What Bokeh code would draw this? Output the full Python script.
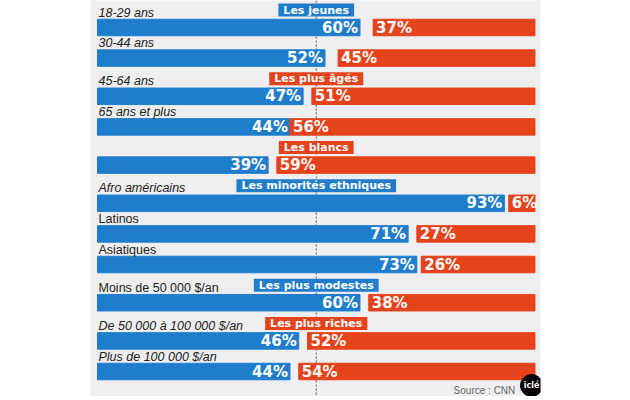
from bokeh.plotting import figure
from bokeh.models import Range1d, Span, ColumnDataSource, Label
from bokeh.core.properties import value
from bokeh.embed import file_html
from bokeh.resources import INLINE

# ---- data ----
categories = ["18-29 ans", "30-44 ans", "45-64 ans", "65 ans et plus", "",
              "Afro américains", "Latinos", "Asiatiques",
              "Moins de 50 000 $/an", "De 50 000 à 100 000 $/an", "Plus de 100 000 $/an"]
obama = [60, 52, 47, 44, 39, 93, 71, 73, 60, 46, 44]
mccain = [37, 45, 51, 56, 59, 6, 27, 26, 38, 52, 54]
group_titles = ["Les jeunes", "", "Les plus âgés", "", "Les blancs",
                "Les minorités ethniques", "", "", "Les plus modestes",
                "Les plus riches", ""]
source_text = "Source : CNN"

# ---- styles / layout ----
BLUE = "#1f7dcc"
RED = "#e5431b"
label_styles = ["italic", "italic", "italic", "italic", "italic", "italic",
                "normal", "normal", "normal", "italic", "italic"]
ROW, HEAD, TOP = 30.6, 7.6, 27.0

ys = []
y = TOP
for i, t in enumerate(group_titles):
    if i > 0:
        y += ROW + (HEAD if t else 0)
    ys.append(y)

src = ColumnDataSource(dict(
    y=ys,
    ylab=[v - 15 for v in ys],
    cat=categories,
    style=label_styles,
    obama=obama,
    mstart=[100 - m for m in mccain],
    olab=[f"{v}%" for v in obama],
    mlab=[f"{v}%" for v in mccain],
))

hidx = [i for i, t in enumerate(group_titles) if t]
hsrc = ColumnDataSource(dict(
    x=[50] * len(hidx),
    y=[ys[i] - 17.5 for i in hidx],
    text=[group_titles[i] for i in hidx],
    color=[BLUE if obama[i] > mccain[i] else RED for i in hidx],
))

p = figure(width=614, height=396,
           x_range=Range1d(-1.6, 101.26), y_range=Range1d(396, 0),
           x_axis_location=None, y_axis_location=None,
           output_backend="svg", toolbar_location=None,
           min_border_left=90, min_border_right=74,
           min_border_top=0, min_border_bottom=0)
p.background_fill_color = "#efeff1"
p.border_fill_color = "white"
p.outline_line_color = None
p.grid.visible = False

p.add_layout(Span(location=50, dimension="height", line_color="#555555",
                  line_dash="2 2", line_width=1, level="underlay"))

p.hbar(y="y", left=0, right="obama", height=16.5, color=BLUE, source=src)
p.hbar(y="y", left="mstart", right=100, height=16.5, color=RED, source=src)

p.text(x="obama", y="y", text="olab", source=src, text_align="right",
       text_baseline="middle", x_offset=-2, text_color="white",
       text_font=value("DejaVu Sans"), text_font_style="bold",
       text_font_size="15px")
p.text(x="mstart", y="y", text="mlab", source=src, text_align="left",
       text_baseline="middle", x_offset=3, text_color="white",
       text_font=value("DejaVu Sans"), text_font_style="bold",
       text_font_size="15px")

p.text(x=0, y="ylab", text="cat", source=src, text_align="left",
       text_baseline="middle", x_offset=1, text_color="#222222",
       text_font=value("Liberation Sans"), text_font_style="style",
       text_font_size="12.5px")

p.text(x="x", y="y", text="text", source=hsrc, text_align="center",
       text_baseline="middle", text_color="white",
       text_font=value("DejaVu Sans"), text_font_style="bold",
       text_font_size="11px", background_fill_color="color",
       padding=dict(left=5, right=5, top=0, bottom=0))

p.add_layout(Label(x=95.5, y=390, text=source_text, text_align="right",
                   text_baseline="middle", text_color="#666666",
                   text_font="Liberation Sans", text_font_size="10px"))
p.scatter(x=[99.2], y=[385], size=22, color="black")
p.add_layout(Label(x=99.2, y=385, text="iclé", text_align="center",
                   text_baseline="middle", text_color="white",
                   text_font="DejaVu Sans", text_font_style="bold",
                   text_font_size="8px"))

open("out.html", "w").write(file_html(p, INLINE))
